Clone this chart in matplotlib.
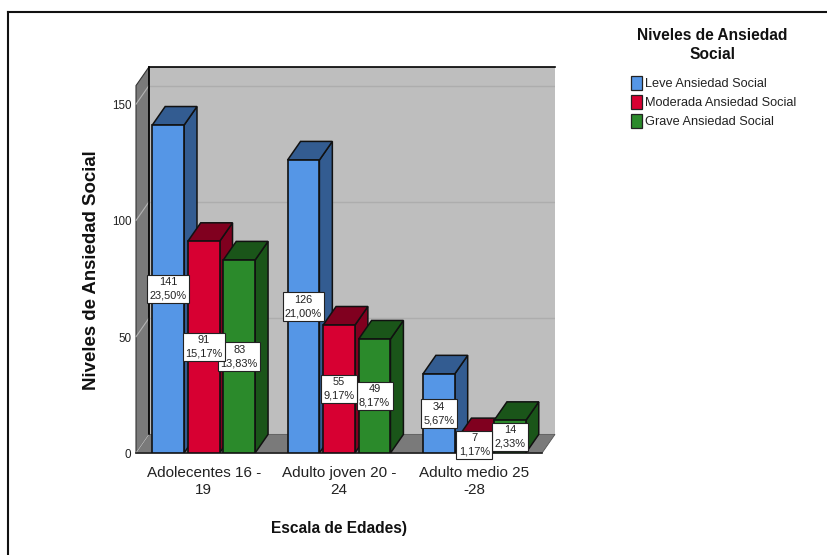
import numpy as np
import matplotlib
matplotlib.use("Agg")
import matplotlib.pyplot as plt
from matplotlib.patches import Polygon, Rectangle

plt.rcParams['font.family'] = ['Liberation Sans', 'DejaVu Sans']

# Data
categories = ["Adolecentes 16 -\n19", "Adulto joven 20 -\n24", "Adulto medio 25\n-28"]
series_names = ["Leve Ansiedad Social", "Moderada Ansiedad Social", "Grave Ansiedad Social"]
leve = [141, 126, 34]
moderada = [91, 55, 7]
grave = [83, 49, 14]
leve_pct = ["23,50%", "21,00%", "5,67%"]
moderada_pct = ["15,17%", "9,17%", "1,17%"]
grave_pct = ["13,83%", "8,17%", "2,33%"]
y_ticks = [0, 50, 100, 150]

W, H = 827, 555
front_colors = ["#5596E6", "#D70032", "#2B8A2B"]
top_colors = ["#335C91", "#80001F", "#1A5519"]
side_colors = ["#335C91", "#80001F", "#1A5519"]
wall = "#BEBEBE"
wall_dark = "#7A7A7A"

# 3D look is a fixed offset, same for walls and bars
bar_w = 0.235
bar_step = 0.2625
dx = 13 / 136
dy = 8.0
y_top = 166

fig = plt.figure(figsize=(W / 100, H / 100), dpi=100)
fig.patch.set_facecolor("white")

# outer frame of the pasted picture
fig.add_artist(plt.Line2D([8 / W, 1], [1 - 12 / H, 1 - 12 / H], color="#111111", lw=1.5))
fig.add_artist(plt.Line2D([8 / W, 8 / W], [1 - 12 / H, 0], color="#111111", lw=1.5))

ax = fig.add_axes([136 / W, 1 - 453 / H, (555 - 136) / W, (453 - 67) / H])
ax.set_xlim(-0.5, 2.5 + dx)
ax.set_ylim(0, y_top)
ax.axis("off")

x_l, x_r = -0.5, 2.5
y_back_top = y_top

# back wall, floor and left wall
ax.add_patch(Polygon([(x_l + dx, dy), (x_r + dx, dy), (x_r + dx, y_back_top), (x_l + dx, y_back_top)],
                     fc=wall, ec="none", zorder=1, clip_on=False))
ax.add_patch(Polygon([(x_l, 0), (x_r, 0), (x_r + dx, dy), (x_l + dx, dy)],
                     fc=wall_dark, ec="#555555", lw=0.6, zorder=1.5, clip_on=False))
ax.add_patch(Polygon([(x_l, 0), (x_l + dx, dy), (x_l + dx, y_back_top), (x_l, y_back_top - dy)],
                     fc=wall_dark, ec="#333333", lw=0.8, zorder=1.5, clip_on=False))
ax.plot([x_l + dx, x_l + dx], [dy, y_back_top], color="black", lw=1.2, zorder=2, clip_on=False)
ax.plot([x_l + dx, x_r + dx], [y_back_top, y_back_top], color="black", lw=1.2, zorder=2, clip_on=False)
ax.plot([x_l, x_r], [0, 0], color="#222222", lw=1.2, zorder=2, clip_on=False)

# gridlines on back and left wall
for t in y_ticks:
    if t > 0:
        ax.plot([x_l + dx, x_r + dx], [t + dy, t + dy], color="#ADADAD", lw=1, zorder=1.2)
    ax.plot([x_l, x_l + dx], [t, t + dy], color="#B4B4B4", lw=0.8, zorder=1.6, clip_on=False)
    ax.text(x_l - 0.035, t - 0.8, str(t), ha="right", va="center", fontsize=8.4, color="#222222")

# bars, drawn as front, top and side faces
series = [leve, moderada, grave]
pcts = [leve_pct, moderada_pct, grave_pct]
for g in range(len(categories)):
    for s in range(3):
        v = series[s][g]
        x0 = g + (s - 1) * bar_step - bar_w / 2
        x1 = x0 + bar_w
        z = 3 + g + s * 0.1
        ax.add_patch(Polygon([(x1, 0), (x1 + dx, dy), (x1 + dx, v + dy), (x1, v)],
                             fc=side_colors[s], ec="#111111", lw=1.1, zorder=z))
        ax.add_patch(Polygon([(x0, v), (x1, v), (x1 + dx, v + dy), (x0 + dx, v + dy)],
                             fc=top_colors[s], ec="#111111", lw=1.1, zorder=z))
        ax.add_patch(Rectangle((x0, 0), bar_w, v, fc=front_colors[s], ec="#111111", lw=1.2, zorder=z + 0.01))

# value labels, first series on top so 91 covers the edge of 83
for g in range(len(categories)):
    for s in range(3):
        v = series[s][g]
        xc = g + (s - 1) * bar_step
        ax.text(xc, v / 2, f"{v}\n{pcts[s][g]}", ha="center", va="center", fontsize=7.9,
                linespacing=1.45, color="#222222", zorder=20 - s,
                bbox=dict(boxstyle="square,pad=0.22", fc="white", ec="#222222", lw=0.8))

# category labels
for g, c in enumerate(categories):
    ax.text(g, -5.8, c, ha="center", va="top", fontsize=11, linespacing=1.25, color="#222222", clip_on=False)

fig.text(339 / W, 1 - 528 / H, "Escala de Edades)", ha="center", va="center", fontsize=11.2,
         fontweight="bold", color="#111111")
fig.text(91 / W, 1 - 270 / H, "Niveles de Ansiedad Social", ha="center", va="center", rotation=90,
         fontsize=13.4, fontweight="bold", color="#111111")

# legend
fig.text(712.5 / W, 1 - 45 / H, "Niveles de Ansiedad\nSocial", ha="center", va="center", fontsize=11.2,
         fontweight="bold", linespacing=1.3, color="#111111")
for i, name in enumerate(series_names):
    yc = 83 + i * 19
    fig.add_artist(Rectangle((631 / W, 1 - (yc + 7) / H), 11 / W, 14 / H, transform=fig.transFigure,
                             fc=front_colors[i], ec="#222222", lw=0.9))
    fig.text(645 / W, 1 - (yc + 1) / H, name, ha="left", va="center", fontsize=9.2, color="#222222")

fig.savefig("out.png", dpi=100)
